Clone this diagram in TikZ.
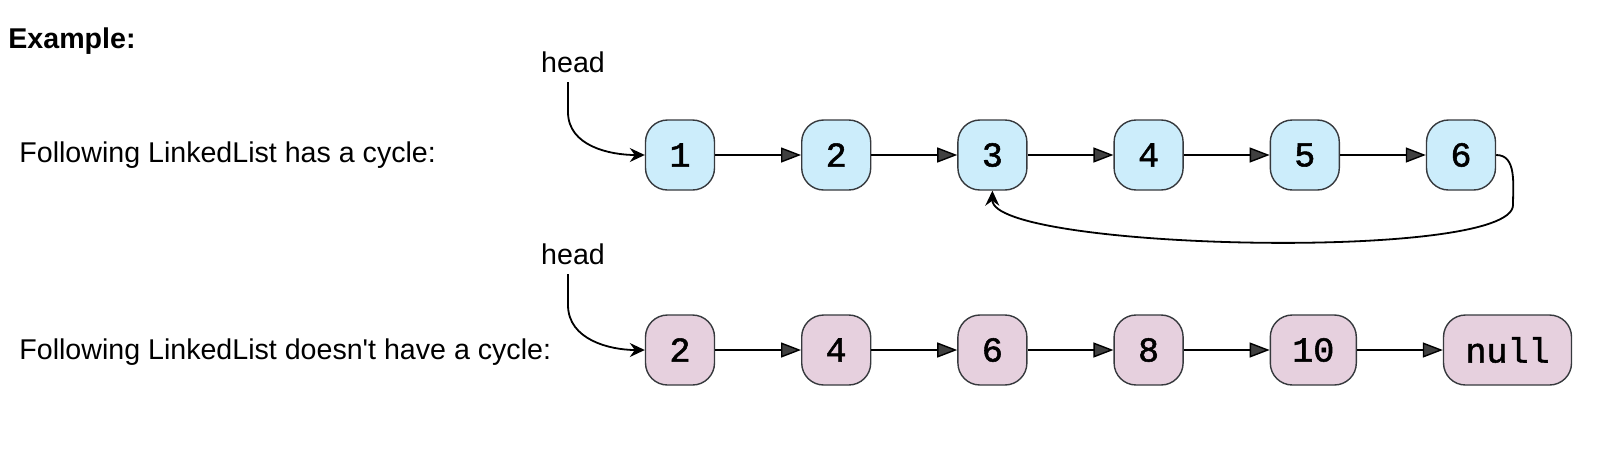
\documentclass[tikz,border=0pt]{standalone}
\usepackage{fontspec}
\setmainfont{Liberation Sans}
\newfontfamily\codefont[FakeBold=1.5]{Liberation Mono}
\usepackage{tikz}
\usetikzlibrary{arrows.meta,positioning}
\definecolor{cyclefill}{HTML}{CCEDFB}
\definecolor{listfill}{HTML}{E6D0DE}
\definecolor{edgegray}{HTML}{36393D}
\definecolor{tipgray}{HTML}{404040}

\begin{document}
\begin{tikzpicture}[x=0.5pt, y=-0.5pt,
    listnode/.style={draw=edgegray, line width=0.7pt, rounded corners=11pt, minimum width=34.5pt, minimum height=35pt, inner xsep=11pt, font=\codefont\fontsize{17.5}{20}\selectfont},
    cyclenode/.style={listnode, fill=cyclefill},
    plainnode/.style={listnode, fill=listfill},
    next/.style={line width=0.7pt, -{Triangle[length=10pt, width=7.5pt, fill=tipgray]}},
    pointer/.style={line width=0.9pt, -{Stealth[length=7.5pt, width=7pt, inset=2.5pt]}},
    plaintext/.style={font=\fontsize{14.3}{17}\selectfont, inner sep=0pt}]

    \useasboundingbox (0,0) rectangle (1616,472);

    % Titles on the left
    \node[plaintext, anchor=west, font=\bfseries\fontsize{14.3}{17}\selectfont] (example) at (8,41) {Example:};
    \node[plaintext, anchor=west] (cycletext) at (19,155) {Following LinkedList has a cycle:};
    \node[plaintext, anchor=west] (nocycletext) at (19,352) {Following LinkedList doesn\textquotesingle t have a cycle:};

    % List with a cycle
    \node[cyclenode] (a1) at (680,155) {1};
    \node[cyclenode, right=42.9pt of a1] (a2) {2};
    \node[cyclenode, right=42.9pt of a2] (a3) {3};
    \node[cyclenode, right=42.9pt of a3] (a4) {4};
    \node[cyclenode, right=42.9pt of a4] (a5) {5};
    \node[cyclenode, right=42.9pt of a5] (a6) {6};

    \draw[next] (a1) -- (a2);
    \draw[next] (a2) -- (a3);
    \draw[next] (a3) -- (a4);
    \draw[next] (a4) -- (a5);
    \draw[next] (a5) -- (a6);

    % Back edge 6 -> 3
    \coordinate (loopa) at (1513,205);
    \draw[pointer] (a6.east) to[out=0, in=90] (loopa) .. controls (1513,262) and (992,250) .. (a3.south);

    % Head pointer (top)
    \node[plaintext] (heada) at (573,62) {head};
    \coordinate (benda) at (568,112);
    \draw[pointer] (568,82) -- (benda) to[out=-90, in=180] (a1.west);

    % List without a cycle
    \node[plainnode] (b1) at (680,350) {2};
    \node[plainnode, right=42.9pt of b1] (b2) {4};
    \node[plainnode, right=42.9pt of b2] (b3) {6};
    \node[plainnode, right=42.9pt of b3] (b4) {8};
    \node[plainnode, right=42.9pt of b4] (b5) {10};
    \node[plainnode, right=42.9pt of b5] (b6) {null};

    \draw[next] (b1) -- (b2);
    \draw[next] (b2) -- (b3);
    \draw[next] (b3) -- (b4);
    \draw[next] (b4) -- (b5);
    \draw[next] (b5) -- (b6);

    % Head pointer (bottom)
    \node[plaintext] (headb) at (573,254) {head};
    \coordinate (bendb) at (568,305);
    \draw[pointer] (568,274) -- (bendb) to[out=-90, in=180] (b1.west);
\end{tikzpicture}
\end{document}
